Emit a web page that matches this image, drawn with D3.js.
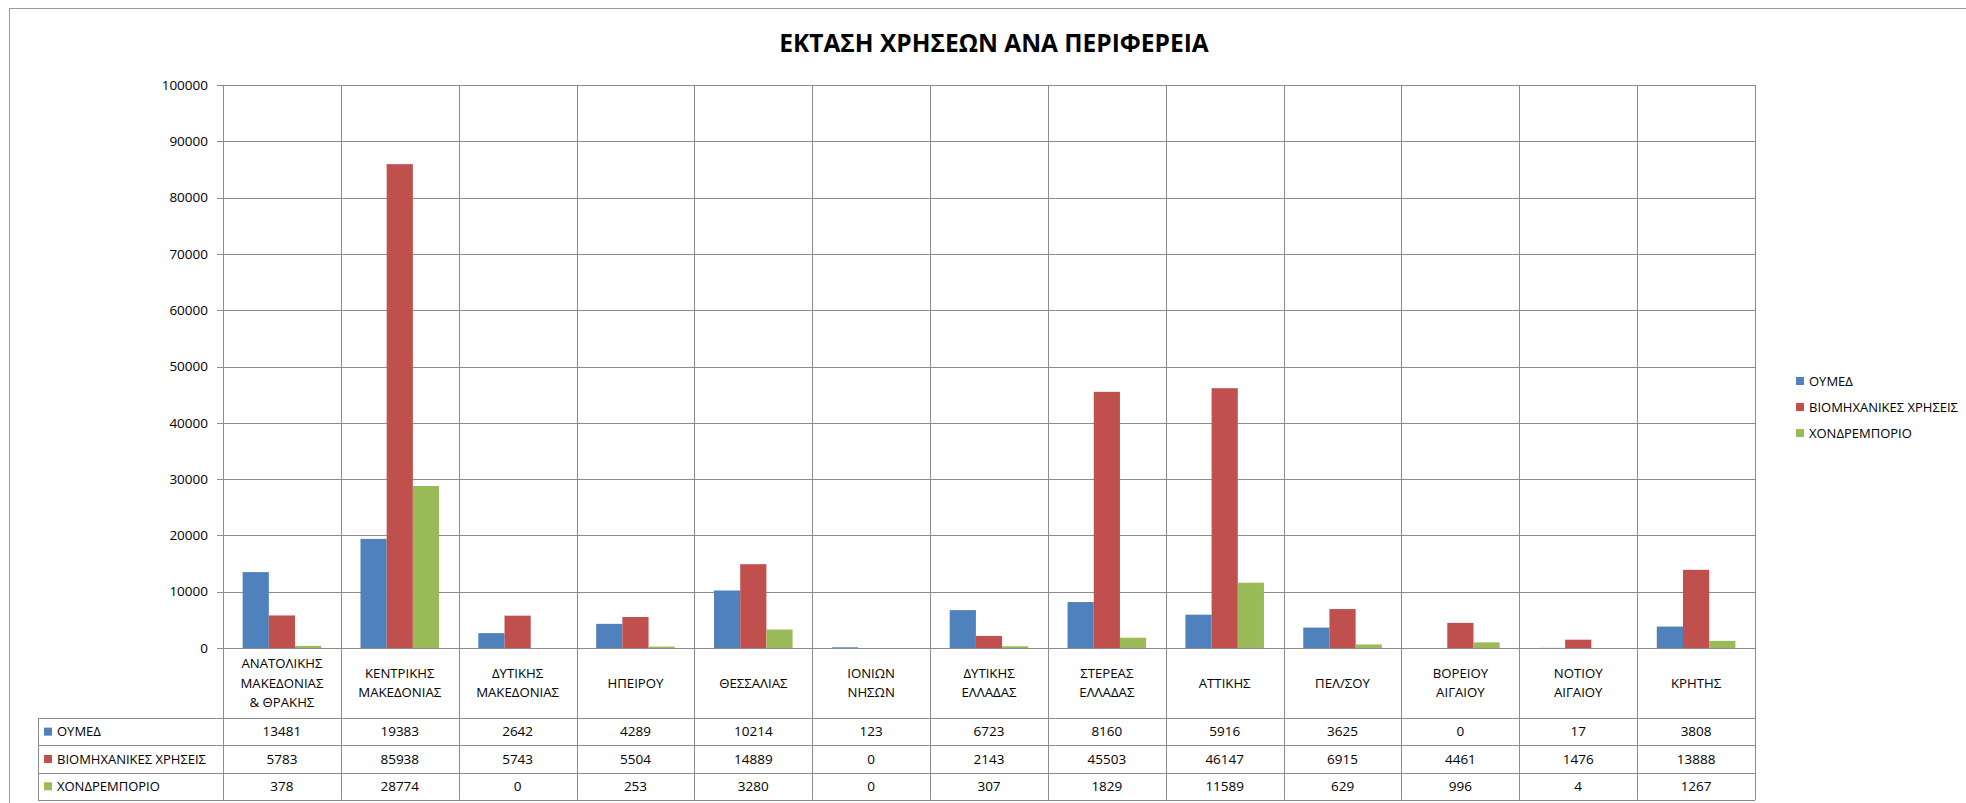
<!DOCTYPE html>
<html>
<head>
<meta charset="utf-8">
<script src="https://cdn.jsdelivr.net/npm/d3@7"></script>
<style>
  body { margin: 0; background: #fff; }
  text { font-family: "Open Sans", "Noto Sans", sans-serif; fill: #000; }
</style>
</head>
<body>
<div id="vis"></div>
<script>
const REGIONS = [
  ["ΑΝΑΤΟΛΙΚΗΣ", "ΜΑΚΕΔΟΝΙΑΣ", "& ΘΡΑΚΗΣ"],
  ["ΚΕΝΤΡΙΚΗΣ", "ΜΑΚΕΔΟΝΙΑΣ"],
  ["ΔΥΤΙΚΗΣ", "ΜΑΚΕΔΟΝΙΑΣ"],
  ["ΗΠΕΙΡΟΥ"],
  ["ΘΕΣΣΑΛΙΑΣ"],
  ["ΙΟΝΙΩΝ", "ΝΗΣΩΝ"],
  ["ΔΥΤΙΚΗΣ", "ΕΛΛΑΔΑΣ"],
  ["ΣΤΕΡΕΑΣ", "ΕΛΛΑΔΑΣ"],
  ["ΑΤΤΙΚΗΣ"],
  ["ΠΕΛ/ΣΟΥ"],
  ["ΒΟΡΕΙΟΥ", "ΑΙΓΑΙΟΥ"],
  ["ΝΟΤΙΟΥ", "ΑΙΓΑΙΟΥ"],
  ["ΚΡΗΤΗΣ"]
];
const SERIES_NAMES = ["ΟΥΜΕΔ", "ΒΙΟΜΗΧΑΝΙΚΕΣ ΧΡΗΣΕΙΣ", "ΧΟΝΔΡΕΜΠΟΡΙΟ"];
const OYMED = [13481, 19383, 2642, 4289, 10214, 123, 6723, 8160, 5916, 3625, 0, 17, 3808];
const INDUSTRIAL = [5783, 85938, 5743, 5504, 14889, 0, 2143, 45503, 46147, 6915, 4461, 1476, 13888];
const WHOLESALE = [378, 28774, 0, 253, 3280, 0, 307, 1829, 11589, 629, 996, 4, 1267];
const Y_TICKS = [0, 10000, 20000, 30000, 40000, 50000, 60000, 70000, 80000, 90000, 100000];
const COLORS = ["#4F81BD", "#C0504D", "#9BBB59"];

const SERIES = [OYMED, INDUSTRIAL, WHOLESALE];

const WIDTH = 1966, HEIGHT = 803;
const PLOT = { left: 223, right: 1755, top: 85, bottom: 648 };
const TABLE = { left: 38, top: 718, row: 27.3 };
const GRID = "#8c8c8c";

const svg = d3.select("#vis").append("svg")
  .attr("width", WIDTH)
  .attr("height", HEIGHT);

// chart frame (right / bottom edges fall outside the picture)
svg.append("rect")
  .attr("x", 9.5).attr("y", 8.5)
  .attr("width", 1970).attr("height", 820)
  .attr("fill", "#fff")
  .attr("stroke", "#9a9a9a");

svg.append("text")
  .attr("x", 994).attr("y", 52)
  .attr("text-anchor", "middle")
  .attr("font-size", 24.5)
  .attr("font-weight", "bold")
  .text("ΕΚΤΑΣΗ ΧΡΗΣΕΩΝ  ΑΝΑ ΠΕΡΙΦΕΡΕΙΑ");

const idx = REGIONS.map((d, i) => i);

const X_SCALE = d3.scaleBand()
  .domain(idx)
  .range([PLOT.left, PLOT.right]);

const X_INNER = d3.scaleBand()
  .domain([0, 1, 2])
  .range([0, X_SCALE.bandwidth()])
  .paddingOuter(0.75)
  .paddingInner(0);

const Y_SCALE = d3.scaleLinear()
  .domain([0, 100000])
  .range([PLOT.bottom, PLOT.top]);

// horizontal gridlines
svg.append("g")
  .selectAll("line")
  .data(Y_TICKS)
  .enter()
  .append("line")
  .attr("x1", PLOT.left - 6)
  .attr("x2", PLOT.right)
  .attr("y1", d => Math.round(Y_SCALE(d)) + 0.5)
  .attr("y2", d => Math.round(Y_SCALE(d)) + 0.5)
  .attr("stroke", GRID);

// y tick labels
svg.append("g")
  .selectAll("text")
  .data(Y_TICKS)
  .enter()
  .append("text")
  .attr("x", PLOT.left - 15)
  .attr("y", d => Y_SCALE(d))
  .attr("dy", "0.35em")
  .attr("text-anchor", "end")
  .attr("font-size", 13.5)
  .text(d => d);

// vertical lines between categories, running down through the table
const boundaries = idx.map(i => X_SCALE(i)).concat([PLOT.right]);
svg.append("g")
  .selectAll("line")
  .data(boundaries)
  .enter()
  .append("line")
  .attr("x1", d => Math.round(d) + 0.5)
  .attr("x2", d => Math.round(d) + 0.5)
  .attr("y1", PLOT.top)
  .attr("y2", TABLE.top + TABLE.row * 3)
  .attr("stroke", GRID);

// bars
SERIES.forEach((values, s) => {
  svg.append("g")
    .selectAll("rect")
    .data(values)
    .enter()
    .append("rect")
    .attr("x", (d, i) => X_SCALE(i) + X_INNER(s))
    .attr("y", d => Y_SCALE(d))
    .attr("width", X_INNER.bandwidth())
    .attr("height", d => PLOT.bottom - Y_SCALE(d))
    .attr("fill", COLORS[s]);
});

// baseline drawn on top of bars
svg.append("line")
  .attr("x1", PLOT.left - 6).attr("x2", PLOT.right)
  .attr("y1", PLOT.bottom + 0.5).attr("y2", PLOT.bottom + 0.5)
  .attr("stroke", GRID);

// category labels
const catG = svg.append("g")
  .selectAll("text")
  .data(REGIONS)
  .enter()
  .append("text")
  .attr("x", (d, i) => X_SCALE(i) + X_SCALE.bandwidth() / 2)
  .attr("y", d => 683 - (d.length - 1) * 19.5 / 2)
  .attr("text-anchor", "middle")
  .attr("font-size", 13.2);

catG.selectAll("tspan")
  .data(d => d)
  .enter()
  .append("tspan")
  .attr("x", function () { return d3.select(this.parentNode).attr("x"); })
  .attr("dy", (d, j) => j === 0 ? "0.35em" : 19.5)
  .text(d => d);

// data table
const table = svg.append("g");
for (let r = 0; r <= 3; r++) {
  table.append("line")
    .attr("x1", TABLE.left).attr("x2", PLOT.right)
    .attr("y1", Math.round(TABLE.top + r * TABLE.row) + 0.5)
    .attr("y2", Math.round(TABLE.top + r * TABLE.row) + 0.5)
    .attr("stroke", GRID);
}
table.append("line")
  .attr("x1", TABLE.left + 0.5).attr("x2", TABLE.left + 0.5)
  .attr("y1", TABLE.top).attr("y2", TABLE.top + TABLE.row * 3)
  .attr("stroke", GRID);

SERIES_NAMES.forEach((name, s) => {
  const cy = TABLE.top + TABLE.row * (s + 0.5);
  table.append("rect")
    .attr("x", 44).attr("y", cy - 4)
    .attr("width", 8).attr("height", 8)
    .attr("fill", COLORS[s]);
  table.append("text")
    .attr("x", 57).attr("y", cy)
    .attr("dy", "0.35em")
    .attr("font-size", 13)
    .text(name);
  table.append("g")
    .selectAll("text")
    .data(SERIES[s])
    .enter()
    .append("text")
    .attr("x", (d, i) => X_SCALE(i) + X_SCALE.bandwidth() / 2)
    .attr("y", cy)
    .attr("dy", "0.35em")
    .attr("text-anchor", "middle")
    .attr("font-size", 13.5)
    .text(d => d);
});

// legend
const legend = svg.append("g")
  .selectAll("g")
  .data(SERIES_NAMES)
  .enter()
  .append("g")
  .attr("transform", (d, i) => `translate(1796, ${381 + i * 26})`);

legend.append("rect")
  .attr("x", 0).attr("y", -4)
  .attr("width", 8).attr("height", 8)
  .attr("fill", (d, i) => COLORS[i]);

legend.append("text")
  .attr("x", 13)
  .attr("dy", "0.35em")
  .attr("font-size", 13)
  .text(d => d);
</script>
</body>
</html>
